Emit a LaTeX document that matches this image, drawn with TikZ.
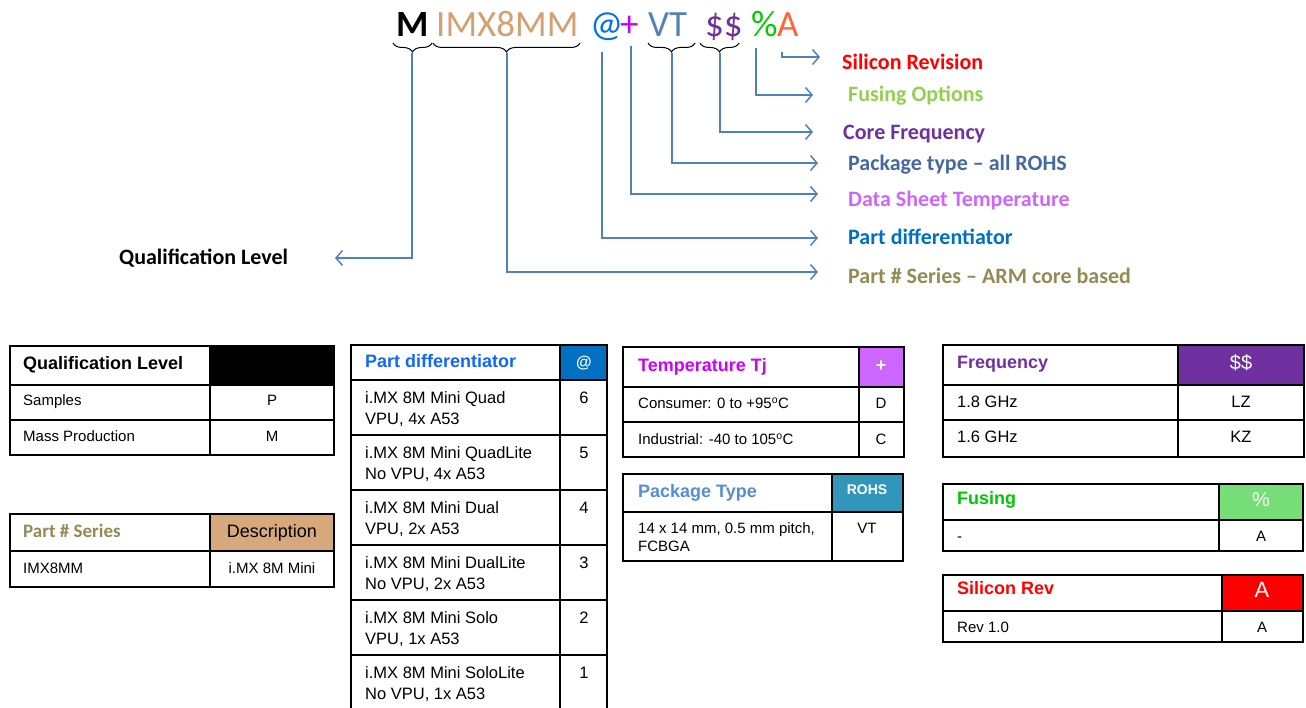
\documentclass[tikz,border=0pt]{standalone}
\usepackage{fontspec}
\setmainfont{Liberation Sans}
\newfontfamily\calib{Carlito}
\usetikzlibrary{arrows.meta,decorations.pathreplacing}
\definecolor{lineblue}{RGB}{79,129,189}
\definecolor{tan}{RGB}{212,160,112}
\definecolor{atblue}{RGB}{0,112,240}
\definecolor{plusmag}{RGB}{204,0,255}
\definecolor{vtblue}{RGB}{79,129,189}
\definecolor{purp}{RGB}{112,48,160}
\definecolor{pctgreen}{RGB}{0,204,0}
\definecolor{aorange}{RGB}{255,102,51}
\definecolor{lgreen}{RGB}{146,208,80}
\definecolor{pkblue}{RGB}{68,104,160}
\definecolor{orchid}{RGB}{204,102,255}
\definecolor{pdblue}{RGB}{0,112,192}
\definecolor{olive}{RGB}{148,138,84}
\definecolor{hdrblue}{RGB}{17,102,255}
\definecolor{descfill}{RGB}{214,168,124}
\definecolor{pkhdr}{RGB}{84,141,212}
\definecolor{teal}{RGB}{49,150,186}
\definecolor{fusefill}{RGB}{119,221,119}
\definecolor{fusetext}{RGB}{0,200,0}
\tikzset{
  conn/.style={draw=lineblue, line width=1.5pt, -{Straight Barb[length=6.5pt,width=15pt,line width=1.5pt]}},
  brc/.style={draw=black, line width=1pt, decorate, decoration={brace,mirror,amplitude=9pt}},
  code/.style={font=\calib\fontsize{37}{40}\selectfont, inner sep=0pt, anchor=base west},
  lab/.style={font=\calib\bfseries\fontsize{22}{26}\selectfont, inner sep=0pt, anchor=base west},
  tx/.style={inner sep=0pt, anchor=west, text height=.72em, text depth=0pt},
  txc/.style={inner sep=0pt, anchor=center, text height=.72em, text depth=0pt},
  f15/.style={font=\fontsize{15}{18}\selectfont},
  f16/.style={font=\fontsize{16.5}{20}\selectfont},
  hb/.style={font=\bfseries\fontsize{18}{22}\selectfont},
  outer/.style={draw=black, line width=2.6pt},
  inner/.style={draw=black, line width=1.6pt}
}
\begin{document}
\begin{tikzpicture}[x=1pt,y=-1pt]
\useasboundingbox (0,0) rectangle (1306,708);
% ---------- part number code ----------
\node[code, font=\calib\bfseries\fontsize{37}{40}\selectfont] (cM) at (396,37) {M};
\node[code, text=tan] (cI) at (436,37) {IMX8MM};
\node[code, text=atblue] (cAt) at (590,37) {@};
\node[code, text=plusmag] (cPlus) at (620,37) {+};
\node[code, text=vtblue] (cVT) at (648,37) {VT};
\node[code, text=purp] (cDD) at (705,37) {\$\$};
\node[code, text=pctgreen] (cPct) at (751,37) {\%};
\node[code, text=aorange] (cA) at (777,37) {A};
% braces
\draw[brc] (393,43) -- (432,43);
\draw[brc] (433,43) -- (580,43);
\draw[brc] (648,43) -- (695,43);
\draw[brc] (700,43) -- (739,43);
% start points
\coordinate (sM) at (412,53);
\coordinate (sI) at (507,53);
\coordinate (sAt) at (602,52);
\coordinate (sPlus) at (631,46);
\coordinate (sVT) at (672,53);
\coordinate (sDD) at (720,53);
\coordinate (sPct) at (756,48);
\coordinate (sA) at (782,52);
% arrow ends
\coordinate (eQ) at (335,258);
\coordinate (ePS) at (818,272);
\coordinate (ePD) at (818,238);
\coordinate (eDS) at (818,194);
\coordinate (ePK) at (818,163);
\coordinate (eCF) at (813,132);
\coordinate (eFU) at (813,95);
\coordinate (eSR) at (820,57);
\draw[conn] (sM) |- (eQ);
\draw[conn] (sI) |- (ePS);
\draw[conn] (sAt) |- (ePD);
\draw[conn] (sPlus) |- (eDS);
\draw[conn] (sVT) |- (ePK);
\draw[conn] (sDD) |- (eCF);
\draw[conn] (sPct) |- (eFU);
\draw[conn] (sA) |- (eSR);
% labels
\node[lab, text=red] (lSR) at (842,70) {Silicon Revision};
\node[lab, text=lgreen] (lFU) at (848,102) {Fusing Options};
\node[lab, text=purp] (lCF) at (843,140) {Core Frequency};
\node[lab, text=pkblue] (lPK) at (848,171) {Package type – all ROHS};
\node[lab, text=orchid] (lDS) at (848,207) {Data Sheet Temperature};
\node[lab, text=pdblue] (lPD) at (848,245) {Part differentiator};
\node[lab, text=olive] (lPS) at (848,284) {Part \# Series – ARM core based};
\node[lab, text=black] (lQ) at (119,265) {Qualification Level};
% ---------- Table 1: Qualification Level ----------
\fill[black] (210,346) rectangle (334,385);
\draw[inner] (10,385) -- (334,385) (10,420) -- (334,420) (210,346) -- (210,455);
\draw[outer] (10,346) rectangle (334,455);
\node[tx, hb] (q0) at (23,366) {Qualification Level};
\node[tx, f15] (q1) at (23,402) {Samples};
\node[txc, f15] (q1v) at (272,402) {P};
\node[tx, f15] (q2) at (23,438) {Mass Production};
\node[txc, f15] (q2v) at (272,438) {M};
% ---------- Table 2: Part # Series ----------
\fill[descfill] (210,514) rectangle (334,551);
\draw[inner] (10,551) -- (334,551) (210,514) -- (210,587);
\draw[outer] (10,514) rectangle (334,587);
\node[tx, font=\calib\bfseries\fontsize{19}{22}\selectfont, text=olive] (s0) at (23,534) {Part \# Series};
\node[txc, font=\fontsize{18}{22}\selectfont] (s0v) at (272,534) {Description};
\node[tx, f15] (s1) at (23,570) {IMX8MM};
\node[txc, f15] (s1v) at (272,570) {i.MX 8M Mini};
% ---------- Table 3: Part differentiator ----------
\fill[pdblue] (560,345) rectangle (607,380);
\draw[inner] (351,380) -- (607,380) (351,435) -- (607,435) (351,490) -- (607,490)
  (351,545) -- (607,545) (351,600) -- (607,600) (351,655) -- (607,655) (560,345) -- (560,712);
\draw[outer] (351,712) -- (351,345) -- (607,345) -- (607,712);
\node[tx, hb, text=hdrblue] (d0) at (365,364) {Part differentiator};
\node[txc, font=\bfseries\fontsize{16}{20}\selectfont, text=white] (d0v) at (584,364) {@};
\node[tx, f16] (d1a) at (365,400) {i.MX 8M Mini Quad};
\node[tx, f16] (d1b) at (365,421) {VPU, 4x A53};
\node[txc, f16] (d1v) at (584,400) {6};
\node[tx, f16] (d2a) at (365,455) {i.MX 8M Mini QuadLite};
\node[tx, f16] (d2b) at (365,476) {No VPU, 4x A53};
\node[txc, f16] (d2v) at (584,455) {5};
\node[tx, f16] (d3a) at (365,510) {i.MX 8M Mini Dual};
\node[tx, f16] (d3b) at (365,531) {VPU, 2x A53};
\node[txc, f16] (d3v) at (584,510) {4};
\node[tx, f16] (d4a) at (365,565) {i.MX 8M Mini DualLite};
\node[tx, f16] (d4b) at (365,586) {No VPU, 2x A53};
\node[txc, f16] (d4v) at (584,565) {3};
\node[tx, f16] (d5a) at (365,620) {i.MX 8M Mini Solo};
\node[tx, f16] (d5b) at (365,641) {VPU, 1x A53};
\node[txc, f16] (d5v) at (584,620) {2};
\node[tx, f16] (d6a) at (365,675) {i.MX 8M Mini SoloLite};
\node[tx, f16] (d6b) at (365,696) {No VPU, 1x A53};
\node[txc, f16] (d6v) at (584,675) {1};
% ---------- Table 4: Temperature ----------
\fill[orchid] (859,347) rectangle (904,387);
\draw[inner] (623,387) -- (904,387) (623,422) -- (904,422) (859,347) -- (859,457);
\draw[outer] (623,347) rectangle (904,457);
\node[tx, hb, text=plusmag] (t0) at (638,368) {Temperature Tj};
\node[txc, font=\bfseries\fontsize{18}{22}\selectfont, text=white] (t0v) at (881,368) {+};
\node[tx, f15] (t1) at (638,405) {Consumer: 0 to +95\textsuperscript{o}C};
\node[txc, f15] (t1v) at (881,405) {D};
\node[tx, f15] (t2) at (638,441) {Industrial: -40 to 105\textsuperscript{o}C};
\node[txc, f15] (t2v) at (881,441) {C};
% ---------- Table 5: Package Type ----------
\fill[teal] (832,474) rectangle (903,512);
\draw[inner] (623,512) -- (903,512) (832,474) -- (832,561);
\draw[outer] (623,474) rectangle (903,561);
\node[tx, hb, text=pkhdr] (p0) at (638,494) {Package Type};
\node[txc, font=\bfseries\fontsize{14}{17}\selectfont, text=white] (p0v) at (867,491) {ROHS};
\node[tx, f15] (p1a) at (638,530) {14 x 14 mm, 0.5 mm pitch,};
\node[tx, f15] (p1b) at (638,548) {FCBGA};
\node[txc, f15] (p1v) at (867,530) {VT};
% ---------- Table 6: Frequency ----------
\fill[purp] (1178,345) rectangle (1304,385);
\draw[inner] (943,385) -- (1304,385) (943,420) -- (1304,420) (1178,345) -- (1178,457);
\draw[outer] (943,345) rectangle (1304,457);
\node[tx, hb, text=purp] (fr0) at (957,365) {Frequency};
\node[txc, font=\fontsize{20}{24}\selectfont, text=white] (fr0v) at (1241,366) {\$\$};
\node[tx, f16] (fr1) at (957,404) {1.8 GHz};
\node[txc, f16] (fr1v) at (1241,404) {LZ};
\node[tx, f16] (fr2) at (957,439) {1.6 GHz};
\node[txc, f16] (fr2v) at (1241,439) {KZ};
% ---------- Table 7: Fusing ----------
\fill[fusefill] (1219,484) rectangle (1303,520);
\draw[inner] (943,520) -- (1303,520) (1219,484) -- (1219,551);
\draw[outer] (943,484) rectangle (1303,551);
\node[tx, hb, text=fusetext] (fu0) at (957,501) {Fusing};
\node[txc, font=\fontsize{20}{24}\selectfont, text=white] (fu0v) at (1261,503) {\%};
\node[tx, f15] (fu1) at (957,538) {-};
\node[txc, f15] (fu1v) at (1261,538) {A};
% ---------- Table 8: Silicon Rev ----------
\fill[red] (1222,575) rectangle (1303,611);
\draw[inner] (943,611) -- (1303,611) (1222,575) -- (1222,642);
\draw[outer] (943,575) rectangle (1303,642);
\node[tx, hb, text=red] (sr0) at (957,591) {Silicon Rev};
\node[txc, font=\fontsize{22}{26}\selectfont, text=white] (sr0v) at (1262,594) {A};
\node[tx, f15] (sr1) at (957,629) {Rev 1.0};
\node[txc, f15] (sr1v) at (1262,629) {A};
\end{tikzpicture}
\end{document}
